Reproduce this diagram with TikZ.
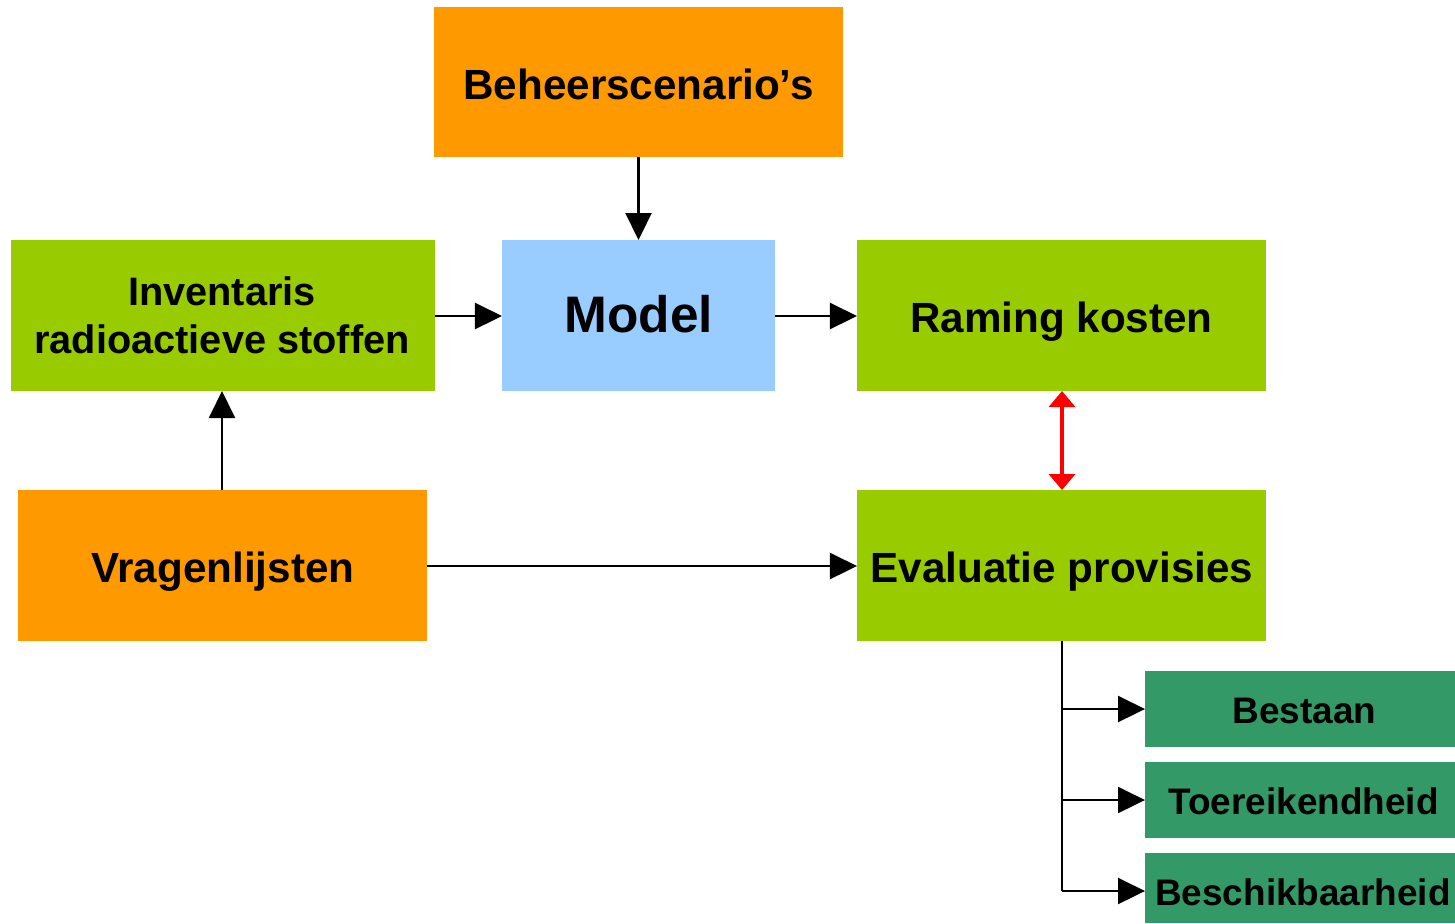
\documentclass[tikz,border=0pt]{standalone}
\usepackage{fontspec}
\setmainfont{Liberation Sans}
\usetikzlibrary{arrows.meta}
\definecolor{orng}{HTML}{FF9900}
\definecolor{lgreen}{HTML}{99CC00}
\definecolor{lblue}{HTML}{99CCFF}
\definecolor{dgreen}{HTML}{339966}
\definecolor{redarr}{HTML}{FF0000}
\begin{document}
\begin{tikzpicture}[x=0.01cm,y=-0.01cm,
  box/.style={inner sep=0pt,outer sep=0pt,anchor=base,align=center,font=\fontsize{12}{14.2}\selectfont\bfseries},
  small/.style={font=\fontsize{10.5}{12}\selectfont\bfseries},
  conn/.style={line width=0.6pt,-{Triangle[length=0.27cm,width=0.26cm]}},
  redconn/.style={draw=redarr,line width=1pt,{Triangle[length=0.16cm,width=0.26cm]}-{Triangle[length=0.16cm,width=0.26cm]}},
  plain/.style={line width=0.6pt}]
\useasboundingbox (0,0) rectangle (1455,923);
\fill[orng] (434,7) rectangle (843,157);
\node[box] (beh) at (638.5,99) {Beheerscenario’s};
\coordinate (behS) at (638.5,157);
\fill[lgreen] (11,240) rectangle (435,391);
\node[box,font=\fontsize{11.3}{13.4}\selectfont\bfseries] (inv) at (222,353) {Inventaris\\radioactieve stoffen};
\coordinate (invE) at (435,316);
\coordinate (invS) at (222,391);
\fill[lblue] (502,240) rectangle (775,391);
\node[box,font=\fontsize{14.6}{17}\selectfont\bfseries] (mod) at (639,332.5) {Model};
\coordinate (modN) at (638.5,240);
\coordinate (modW) at (502,316);
\coordinate (modE) at (775,316);
\fill[lgreen] (857,240) rectangle (1266,391);
\node[box] (ram) at (1061.5,332) {Raming kosten};
\coordinate (ramW) at (857,316);
\coordinate (ramS) at (1062,391);
\fill[orng] (18,490) rectangle (427,641);
\node[box] (vra) at (223,582) {Vragenlijsten};
\coordinate (vraN) at (222,490);
\coordinate (vraE) at (427,566);
\fill[lgreen] (857,490) rectangle (1266,641);
\node[box] (eva) at (1062,582) {Evaluatie provisies};
\coordinate (evaW) at (857,566);
\coordinate (evaN) at (1062,490);
\coordinate (evaS) at (1062,641);
\fill[dgreen] (1145,671) rectangle (1455,747);
\node[box,small] (bes) at (1304.5,723) {Bestaan};
\fill[dgreen] (1145,762) rectangle (1455,838);
\node[box,small] (toe) at (1303.5,814) {Toereikendheid};
\fill[dgreen] (1145,853) rectangle (1455,923);
\node[box,small] (bsk) at (1303,905) {Beschikbaarheid};
\coordinate (b1) at (1145,709);
\coordinate (b2) at (1145,800);
\coordinate (b3) at (1145,891);
\coordinate (j1) at (1062,709);
\coordinate (j2) at (1062,800);
\coordinate (j3) at (1062,891);
\draw[conn] (behS) -- (modN);
\draw[conn] (invE) -- (modW);
\draw[conn] (modE) -- (ramW);
\draw[conn] (vraN) -- (invS);
\draw[conn] (vraE) -- (evaW);
\draw[redconn] (ramS) -- (evaN);
\draw[plain] (evaS) -- (j3);
\draw[conn] (j1) -- (b1);
\draw[conn] (j2) -- (b2);
\draw[conn] (j3) -- (b3);
\end{tikzpicture}
\end{document}
